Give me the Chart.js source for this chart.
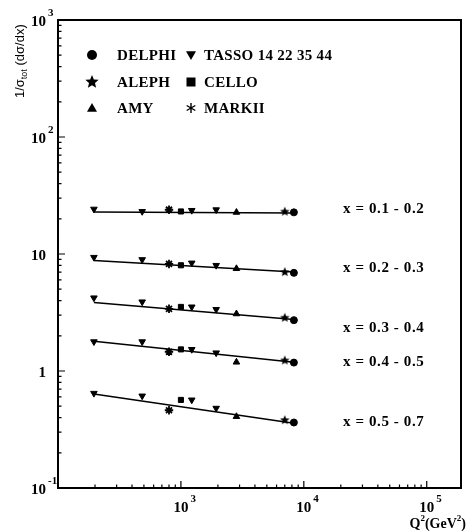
<!DOCTYPE html>
<html>
<head>
<meta charset="utf-8">
<script src="https://cdn.jsdelivr.net/npm/chart.js@4/dist/chart.umd.min.js"></script>
<style>
  body { margin: 0; background: #fff; }
  canvas { display: block; }
</style>
</head>
<body>
<canvas id="frag-chart" width="467" height="531"></canvas>
<script>
// Q^2 positions (GeV^2) of each experiment
const q2Tasso = [196, 484, 1225, 1936];
const q2Delphi = 8300;
const q2Aleph = 7000;
const q2Amy = 2830;
const q2Cello = 1000;
const q2MarkII = 800;

// one value per x bin (0.1-0.2, 0.2-0.3, 0.3-0.4, 0.4-0.5, 0.5-0.7)
const binLabels = ['x = 0.1 - 0.2', 'x = 0.2 - 0.3', 'x = 0.3 - 0.4', 'x = 0.4 - 0.5', 'x = 0.5 - 0.7'];
const tassoVals = [
    [24.2, 23.1, 23.6, 23.9],
    [9.37, 8.96, 8.38, 8.0],
    [4.22, 3.90, 3.53, 3.36],
    [1.78, 1.78, 1.53, 1.43],
    [0.645, 0.612, 0.566, 0.481]
];
const delphiVals = [22.7, 6.9, 2.72, 1.18, 0.363];
const alephVals = [23.0, 7.0, 2.85, 1.23, 0.38];
const amyVals = [22.7, 7.5, 3.08, 1.19, 0.408];
const celloVals = [23.1, 8.01, 3.53, 1.53, 0.566];
const markiiVals = [23.9, 8.22, 3.40, 1.46, 0.462];

// fitted lines, drawn between two Q^2 values
const fitQ2 = [196, 8300];
const fitVals = [[22.8, 22.4], [8.8, 7.0], [3.85, 2.75], [1.80, 1.19], [0.635, 0.358]];

const yTickExps = [-1, 0, 1, 2, 3];
const xTickExps = [3, 4, 5];

const SERIF = '"Liberation Serif", "DejaVu Serif", serif';

// filled five-point star as an image (ALEPH)
function starImage(r) {
    const c = document.createElement('canvas');
    c.width = c.height = 2 * r + 2;
    const g = c.getContext('2d');
    g.beginPath();
    for (let i = 0; i < 10; i++) {
        const a = -Math.PI / 2 + i * Math.PI / 5;
        const rr = i % 2 ? r * 0.45 : r;
        g.lineTo(r + 1 + rr * Math.cos(a), r + 1 + rr * Math.sin(a));
    }
    g.closePath();
    g.fillStyle = '#000';
    g.fill();
    return c;
}
const starSmall = starImage(5);
const starBig = starImage(7);

function punto(q, v) { return { x: q, y: v }; }

const markerBase = {
    showLine: false,
    backgroundColor: '#000',
    borderColor: '#000',
    borderWidth: 1
};

const datasets = [
    Object.assign({}, markerBase, {
        label: 'DELPHI', pointStyle: 'circle', pointRadius: 3.5,
        data: delphiVals.map(v => punto(q2Delphi, v))
    }),
    Object.assign({}, markerBase, {
        label: 'ALEPH', pointStyle: starSmall,
        data: alephVals.map(v => punto(q2Aleph, v))
    }),
    Object.assign({}, markerBase, {
        label: 'AMY', pointStyle: 'triangle', pointRadius: 3.8,
        data: amyVals.map(v => punto(q2Amy, v))
    }),
    Object.assign({}, markerBase, {
        label: 'TASSO 14 22 35 44', pointStyle: 'triangle', pointRotation: 180, pointRadius: 3.8,
        data: tassoVals.flatMap(fila => fila.map((v, i) => punto(q2Tasso[i], v)))
    }),
    Object.assign({}, markerBase, {
        label: 'CELLO', pointStyle: 'rect', pointRadius: 3.6,
        data: celloVals.map(v => punto(q2Cello, v))
    }),
    Object.assign({}, markerBase, {
        label: 'MARKII', pointStyle: 'star', pointRadius: 4.2, borderWidth: 1.8,
        data: markiiVals.map(v => punto(q2MarkII, v))
    })
];

fitVals.forEach((par, i) => {
    datasets.push({
        label: 'fit ' + binLabels[i],
        data: par.map((v, j) => punto(fitQ2[j], v)),
        showLine: true,
        borderColor: '#000',
        borderWidth: 1.5,
        pointRadius: 0
    });
});

// legend entries: [marker, text, column, row]
const legendItems = [
    ['circle', 'DELPHI', 0, 0],
    ['star5', 'ALEPH', 0, 1],
    ['triangle', 'AMY', 0, 2],
    ['tridown', 'TASSO 14 22 35 44', 1, 0],
    ['rect', 'CELLO', 1, 1],
    ['asterisk', 'MARKII', 1, 2]
];

function drawMarker(ctx, style, x, y, r) {
    ctx.save();
    ctx.fillStyle = '#000';
    ctx.strokeStyle = '#000';
    ctx.beginPath();
    if (style === 'circle') {
        ctx.arc(x, y, r, 0, Math.PI * 2);
        ctx.fill();
    } else if (style === 'star5') {
        ctx.drawImage(starBig, x - starBig.width / 2, y - starBig.height / 2);
    } else if (style === 'triangle' || style === 'tridown') {
        const s = style === 'triangle' ? 1 : -1;
        ctx.moveTo(x, y - s * r);
        ctx.lineTo(x + r, y + s * r * 0.75);
        ctx.lineTo(x - r, y + s * r * 0.75);
        ctx.closePath();
        ctx.fill();
    } else if (style === 'rect') {
        ctx.fillRect(x - r * 0.9, y - r * 0.9, r * 1.8, r * 1.8);
    } else if (style === 'asterisk') {
        ctx.lineWidth = 1.4;
        for (let k = 0; k < 3; k++) {
            const a = Math.PI / 2 + k * Math.PI / 3;
            ctx.moveTo(x - r * Math.cos(a), y - r * Math.sin(a));
            ctx.lineTo(x + r * Math.cos(a), y + r * Math.sin(a));
        }
        ctx.stroke();
    }
    ctx.restore();
}

function potencia(ctx, exp, x, y, align) {
    // "10^exp" (o 1, 10); align 'right' => termina en x, 'center' => base centrada en x
    ctx.font = 'bold 15px ' + SERIF;
    ctx.textBaseline = 'middle';
    const base = exp === 0 ? '1' : '10';
    const sup = (exp === 0 || exp === 1) ? '' : String(exp);
    const wBase = ctx.measureText(base).width;
    let x0;
    if (align === 'right') x0 = x - wBase; else x0 = x - wBase / 2;
    ctx.textAlign = 'left';
    ctx.fillText(base, x0, y);
    if (sup) {
        ctx.font = 'bold 11px ' + SERIF;
        ctx.fillText(sup, x0 + wBase + 2, y - 9);
    }
}

const marcoPlugin = {
    id: 'marco',
    afterDraw(chart) {
        const ctx = chart.ctx;
        const a = chart.chartArea;
        const xs = chart.scales.x;
        const ys = chart.scales.y;
        ctx.save();
        ctx.strokeStyle = '#000';
        ctx.fillStyle = '#000';

        // marco
        ctx.lineWidth = 2;
        ctx.strokeRect(a.left, a.top, a.right - a.left, a.bottom - a.top);

        // ticks menores/mayores hacia dentro
        ctx.lineWidth = 1.2;
        ctx.beginPath();
        for (let e = -1; e <= 2; e++) {
            for (let m = 1; m <= 9; m++) {
                const py = ys.getPixelForValue(m * Math.pow(10, e));
                const len = m === 1 ? 7 : 3.5;
                ctx.moveTo(a.left, py);
                ctx.lineTo(a.left + len, py);
            }
        }
        for (let e = 2; e <= 5; e++) {
            for (let m = 1; m <= 9; m++) {
                const v = m * Math.pow(10, e);
                if (v > xs.max) break;
                const px = xs.getPixelForValue(v);
                const len = m === 1 ? 7 : 3.5;
                ctx.moveTo(px, a.bottom);
                ctx.lineTo(px, a.bottom - len);
            }
        }
        ctx.stroke();

        // etiquetas de los ejes
        yTickExps.forEach(e => {
            potencia(ctx, e, a.left - 12, ys.getPixelForValue(Math.pow(10, e)) + 2, 'right');
        });
        xTickExps.forEach(e => {
            potencia(ctx, e, xs.getPixelForValue(Math.pow(10, e)), a.bottom + 20, 'center');
        });

        // titulo eje x Q^2(GeV^2), alineado a la derecha
        ctx.textBaseline = 'alphabetic';
        ctx.textAlign = 'left';
        const trozos = [['Q', 14], ['2', 9, true], ['(GeV', 14], ['2', 9, true], [')', 14]];
        let total = 0;
        trozos.forEach(t => {
            ctx.font = 'bold ' + t[1] + 'px ' + SERIF;
            total += ctx.measureText(t[0]).width;
        });
        let tx = 466 - total, ty = 528;
        trozos.forEach(t => {
            ctx.font = 'bold ' + t[1] + 'px ' + SERIF;
            ctx.fillText(t[0], tx, t[2] ? ty - 7 : ty);
            tx += ctx.measureText(t[0]).width;
        });

        // titulo eje y 1/sigma_tot (dsigma/dx), rotado
        ctx.save();
        ctx.translate(24, 98);
        ctx.rotate(-Math.PI / 2);
        ctx.textBaseline = 'alphabetic';
        let sx = 0;
        const partes = [['1/σ', 13, 0], ['tot', 9, 3], [' (dσ/dx)', 13, 0]];
        partes.forEach(p => {
            ctx.font = p[1] + 'px "Liberation Sans", Arial, sans-serif';
            ctx.fillText(p[0], sx, p[2]);
            sx += ctx.measureText(p[0]).width;
        });
        ctx.restore();

        // leyenda
        ctx.font = 'bold 15px ' + SERIF;
        ctx.textBaseline = 'middle';
        ctx.letterSpacing = '0.3px';
        const colMarker = [92, 191];
        const colText = [117, 204];
        const rowY = [55, 82, 108];
        legendItems.forEach(it => {
            drawMarker(ctx, it[0], colMarker[it[2]], rowY[it[3]], 5);
            ctx.fillText(it[1], colText[it[2]], rowY[it[3]] + 1);
        });

        // etiquetas de cada intervalo de x
        ctx.letterSpacing = '0.6px';
        const labelY = [209, 268, 328, 362, 422];
        binLabels.forEach((t, i) => {
            ctx.fillText(t, 343, labelY[i]);
        });
        ctx.letterSpacing = '0px';
        ctx.restore();
    }
};

new Chart(document.getElementById('frag-chart').getContext('2d'), {
    type: 'scatter',
    data: { datasets: datasets },
    options: {
        responsive: false,
        animation: false,
        layout: { padding: { left: 58, right: 2, top: 20, bottom: 43 } },
        plugins: {
            legend: { display: false },
            tooltip: { enabled: false }
        },
        scales: {
            x: {
                type: 'logarithmic',
                min: 100,
                max: 190000,
                ticks: { display: false },
                grid: { display: false, drawTicks: false },
                border: { display: false }
            },
            y: {
                type: 'logarithmic',
                min: 0.1,
                max: 1000,
                ticks: { display: false },
                grid: { display: false, drawTicks: false },
                border: { display: false }
            }
        }
    },
    plugins: [marcoPlugin]
});
</script>
</body>
</html>
